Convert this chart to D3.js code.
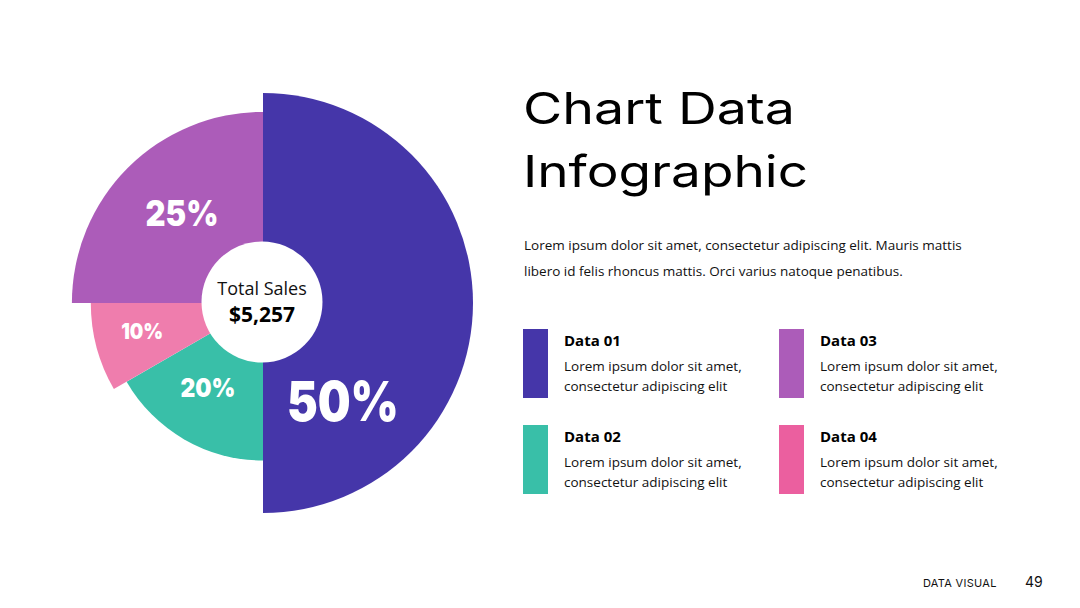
<!DOCTYPE html>
<html>
<head>
<meta charset="utf-8">
<script src="https://cdn.jsdelivr.net/npm/d3@7"></script>
<style>
  html, body { margin: 0; padding: 0; background: #fff; }
  svg { display: block; }
</style>
</head>
<body>
<svg id="canvas" width="1080" height="608"></svg>
<script>
// chart values
const categories = ["Data 01", "Data 02", "Data 03", "Data 04"];
const percentLabels = [50, 20, 25, 10];
// share of the circle each slice actually takes (in twelfths)
const sliceShares = [6, 2, 3, 1];
// how far each slice reaches out, 100 = the biggest one
const sliceReach = [100, 75, 91, 82];
// order the slices run clockwise from the top
const pieOrder = ["Data 01", "Data 02", "Data 04", "Data 03"];
const legendText = ["Lorem ipsum dolor sit amet,", "consectetur adipiscing elit"];

const colors = {
  "Data 01": "#4536A9",
  "Data 02": "#39BFA8",
  "Data 03": "#AC5CB9",
  "Data 04": "#EB5F9F"
};

const svg = d3.select("#canvas");
svg.append("rect").attr("width", 1080).attr("height", 608).attr("fill", "#fff");

// pink slice has a soft gradient
const defs = svg.append("defs");
const pinkGrad = defs.append("linearGradient")
  .attr("id", "pinkGrad")
  .attr("gradientUnits", "userSpaceOnUse")
  .attr("x1", 0).attr("y1", 303).attr("x2", 0).attr("y2", 390);
pinkGrad.append("stop").attr("offset", "0%").attr("stop-color", "#EF7DAD");
pinkGrad.append("stop").attr("offset", "100%").attr("stop-color", "#E8589D");

const rows = pieOrder.map(function(name) {
  const i = categories.indexOf(name);
  return { name: name, label: percentLabels[i], share: sliceShares[i], reach: sliceReach[i] };
});

const cx = 263, cy = 303;
const radius = d3.scaleLinear().domain([0, 100]).range([0, 210]);

const pie = d3.pie().sort(null).value(function(d) { return d.share; });
const arcs = pie(rows);

const arc = d3.arc()
  .innerRadius(0)
  .outerRadius(function(d) { return radius(d.data.reach); });

const pieG = svg.append("g").attr("transform", "translate(" + cx + "," + cy + ")");

pieG.selectAll("path")
  .data(arcs)
  .enter().append("path")
  .attr("d", arc)
  .attr("fill", function(d) {
    return d.data.name === "Data 04" ? "url(#pinkGrad)" : colors[d.data.name];
  });

// hole in the middle
pieG.append("circle").attr("r", 60.5).attr("cx", -1).attr("cy", -1).attr("fill", "#fff");

pieG.append("text")
  .attr("x", -1).attr("y", -8)
  .attr("text-anchor", "middle")
  .attr("font-family", "'Open Sans', sans-serif")
  .attr("font-size", 18)
  .attr("fill", "#111")
  .text("Total Sales");

pieG.append("text")
  .attr("x", -1).attr("y", 19)
  .attr("text-anchor", "middle")
  .attr("font-family", "'Open Sans', sans-serif")
  .attr("font-weight", 700)
  .attr("font-size", 21)
  .attr("fill", "#000")
  .text("$5,257");

// percent labels: where they sit (angle in degrees, distance), size and width
const labelSpot = {
  "Data 01": { a: 141, r: 127, size: 55, w: 112 },
  "Data 02": { a: 213, r: 101, size: 26, w: 55 },
  "Data 04": { a: 257, r: 124, size: 22, w: 42 },
  "Data 03": { a: 318, r: 121, size: 35, w: 73 }
};

pieG.selectAll("text.pct")
  .data(arcs)
  .enter().append("text")
  .attr("class", "pct")
  .attr("text-anchor", "middle")
  .attr("font-family", "Inter, sans-serif")
  .attr("font-weight", 900)
  .attr("fill", "#fff")
  .attr("font-size", function(d) { return labelSpot[d.data.name].size; })
  .attr("textLength", function(d) { return labelSpot[d.data.name].w; })
  .attr("lengthAdjust", "spacingAndGlyphs")
  .attr("x", function(d) {
    const s = labelSpot[d.data.name];
    return s.r * Math.sin(s.a * Math.PI / 180);
  })
  .attr("y", function(d) {
    const s = labelSpot[d.data.name];
    return -s.r * Math.cos(s.a * Math.PI / 180) + s.size * 0.36;
  })
  .text(function(d) { return d.data.label + "%"; });

// title + intro
const title = svg.append("g").attr("font-family", "Inter, sans-serif").attr("fill", "#000");
title.append("text").attr("x", 523).attr("y", 124).attr("font-size", 44)
  .attr("textLength", 272).attr("lengthAdjust", "spacingAndGlyphs").text("Chart Data");
title.append("text").attr("x", 523).attr("y", 187).attr("font-size", 44)
  .attr("textLength", 285).attr("lengthAdjust", "spacingAndGlyphs").text("Infographic");

const intro = ["Lorem ipsum dolor sit amet, consectetur adipiscing elit. Mauris mattis",
               "libero id felis rhoncus mattis. Orci varius natoque penatibus."];
svg.append("g").selectAll("text")
  .data(intro)
  .enter().append("text")
  .attr("x", 524)
  .attr("y", function(d, i) { return 250 + i * 25.5; })
  .attr("font-family", "'Open Sans', sans-serif")
  .attr("font-size", 13.5)
  .attr("fill", "#111")
  .text(function(d) { return d; });

// legend 2x2
const legend = svg.append("g").selectAll("g")
  .data(categories)
  .enter().append("g")
  .attr("transform", function(d, i) {
    const col = Math.floor(i / 2), row = i % 2;
    return "translate(" + (523 + col * 256) + "," + (329 + row * 96) + ")";
  });

legend.append("rect")
  .attr("width", 25).attr("height", 69)
  .attr("fill", function(d) { return colors[d]; });

legend.append("text")
  .attr("x", 41).attr("y", 17)
  .attr("font-family", "'Open Sans', sans-serif")
  .attr("font-weight", 700)
  .attr("font-size", 15)
  .attr("fill", "#000")
  .text(function(d) { return d; });

legend.each(function() {
  d3.select(this).selectAll("text.desc")
    .data(legendText)
    .enter().append("text")
    .attr("class", "desc")
    .attr("x", 41)
    .attr("y", function(d, i) { return 42 + i * 20; })
    .attr("font-family", "'Open Sans', sans-serif")
    .attr("font-size", 13.5)
    .attr("fill", "#111")
    .text(function(d) { return d; });
});

// footer
svg.append("text").attr("x", 923).attr("y", 587)
  .attr("font-family", "Inter, sans-serif").attr("font-size", 11)
  .attr("letter-spacing", 0.3).attr("fill", "#111").text("DATA VISUAL");
svg.append("text").attr("x", 1025).attr("y", 587)
  .attr("font-family", "Inter, sans-serif").attr("font-size", 14)
  .attr("fill", "#111").text("49");
</script>
</body>
</html>
